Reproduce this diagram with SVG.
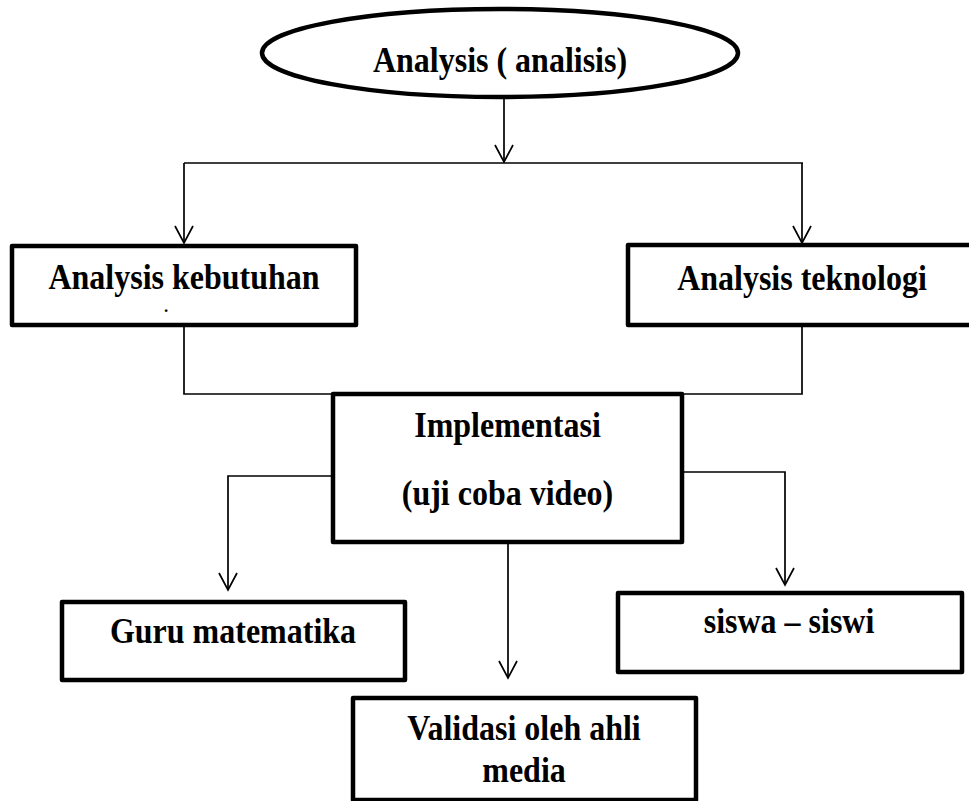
<svg xmlns="http://www.w3.org/2000/svg" width="969" height="801" viewBox="0 0 969 801">
<style>
.box{fill:#fff;stroke:#000;stroke-width:4.5;stroke-linejoin:round}
.t{font-family:"Liberation Serif","Times New Roman",serif;font-weight:bold;font-size:32px;text-anchor:middle;fill:#000}
.c{fill:none;stroke:#000;stroke-width:1.7}
</style>
<defs>
<marker id="arr" viewBox="-19 -11 22 22" markerWidth="22" markerHeight="22" refX="0" refY="0" orient="auto" markerUnits="userSpaceOnUse">
<path d="M-17,-9 L0,0 L-17,9" fill="none" stroke="#000" stroke-width="1.7"/>
</marker>
</defs>
<rect width="969" height="801" fill="#fff"/>
<g id="connectors">
<path class="c" d="M504,97 V162" marker-end="url(#arr)"/>
<path class="c" d="M184,163 H803"/>
<path class="c" d="M184,163 V243" marker-end="url(#arr)"/>
<path class="c" d="M802,163 V243" marker-end="url(#arr)"/>
<path class="c" d="M184,325 V394 H333"/>
<path class="c" d="M802,325 V394 H682"/>
<path class="c" d="M333,476 H228 V590" marker-end="url(#arr)"/>
<path class="c" d="M682,472 H785 V585" marker-end="url(#arr)"/>
<path class="c" d="M508,542 V678" marker-end="url(#arr)"/>
</g>
<g id="analysis">
<ellipse class="box" cx="500" cy="53" rx="238" ry="44"/>
<text class="t" transform="translate(500,72) scale(1,1.1)">Analysis ( analisis)</text>
</g>
<g id="kebutuhan">
<rect class="box" x="12" y="246" width="344" height="79"/>
<text class="t" transform="translate(184,289) scale(1,1.1)">Analysis kebutuhan</text>
<text class="t" x="166" y="312" style="font-size:17px">.</text>
</g>
<g id="teknologi">
<rect class="box" x="628" y="245" width="348" height="80"/>
<text class="t" transform="translate(802,290) scale(1,1.1)">Analysis teknologi</text>
</g>
<g id="implementasi">
<rect class="box" x="333" y="394" width="349" height="148"/>
<text class="t" transform="translate(507.5,437) scale(1,1.1)">Implementasi</text>
<text class="t" transform="translate(507.5,505) scale(1,1.1)">(uji coba video)</text>
</g>
<g id="guru">
<rect class="box" x="62" y="602" width="343" height="78"/>
<text class="t" transform="translate(233,643) scale(1,1.1)">Guru matematika</text>
</g>
<g id="siswa">
<rect class="box" x="618" y="593" width="344" height="79"/>
<text class="t" transform="translate(789,633) scale(1,1.1)">siswa – siswi</text>
</g>
<g id="validasi">
<rect class="box" x="353" y="698" width="343" height="102"/>
<text class="t" transform="translate(524,740) scale(1,1.1)">Validasi oleh ahli</text>
<text class="t" transform="translate(524,782) scale(1,1.1)">media</text>
</g>
</svg>
